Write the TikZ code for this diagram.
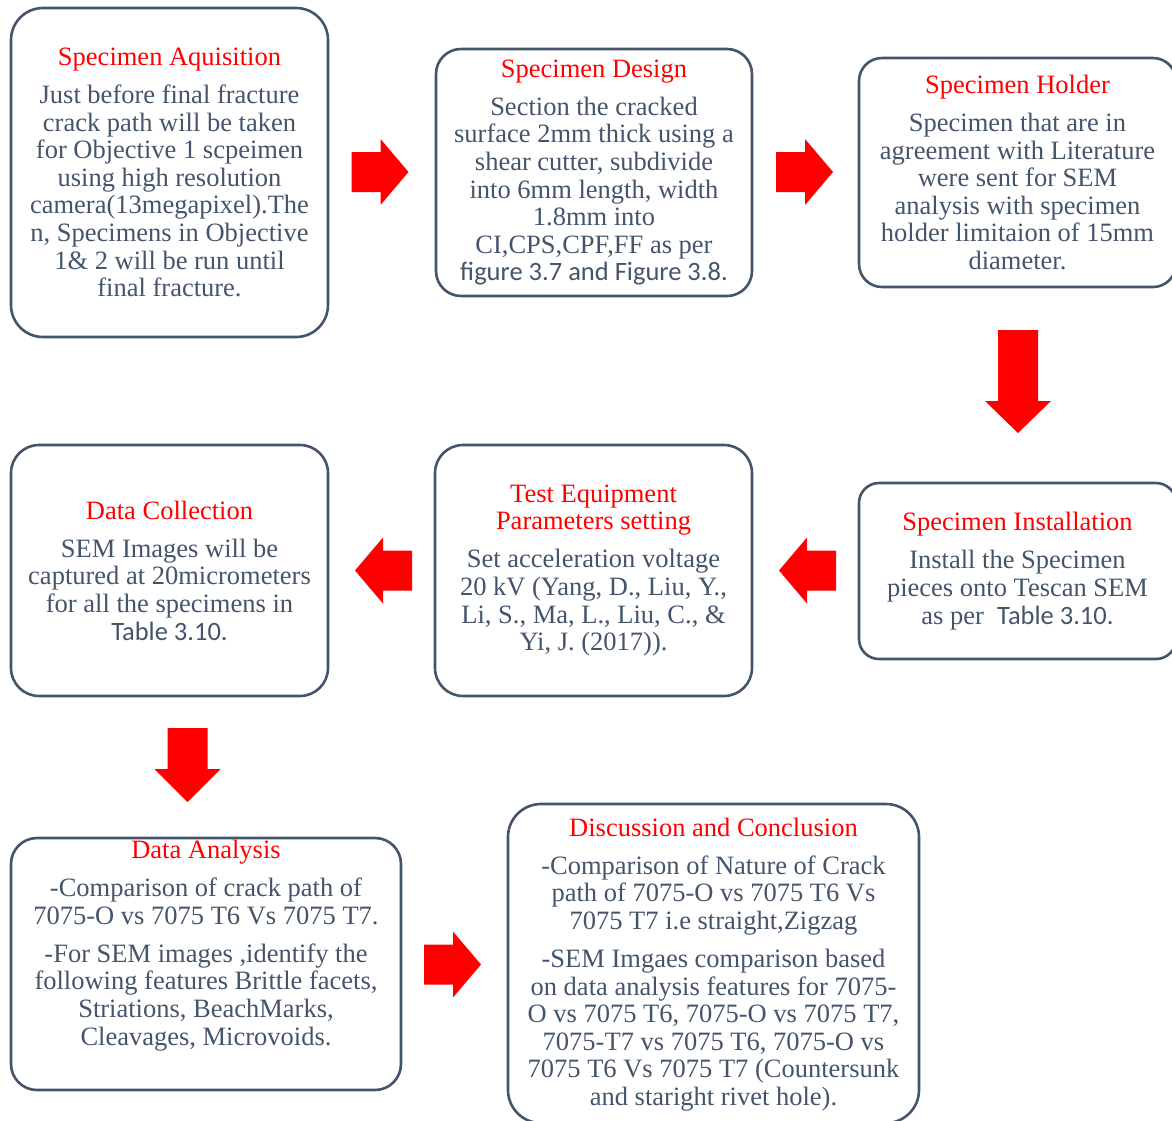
\documentclass[tikz,border=0pt]{standalone}
\usepackage{fontspec}
\setmainfont{Liberation Serif}
\newfontfamily\calibri{Carlito}
\usetikzlibrary{fit}
\definecolor{slate}{HTML}{44546A}
\tikzset{
  stage/.style={draw=slate, line width=2.6pt, inner sep=0pt},
  txt/.style={text=slate, align=center, inner sep=0pt, font=\fontsize{26.5}{27.6}\selectfont},
  blockred/.style={fill=red}
}
\newcommand{\ttl}[1]{\textcolor{red}{#1}\\[10.5pt]}
\begin{document}
\begin{tikzpicture}[x=1pt,y=-1pt]
\useasboundingbox (0,0) rectangle (1172,1120);
\clip (0,0) rectangle (1172,1120);
% boxes
\node[stage, rounded corners=32pt, fit={(11,8) (328,337)}] (acq) {};
\node[stage, rounded corners=25pt, fit={(436,49) (752,296)}] (design) {};
\node[stage, rounded corners=23pt, fit={(859,58) (1176,287)}] (holder) {};
\node[stage, rounded corners=20pt, fit={(859,483) (1176,659)}] (install) {};
\node[stage, rounded corners=28pt, fit={(435,445) (752,696)}] (equip) {};
\node[stage, rounded corners=28pt, fit={(11,445) (328,696)}] (collect) {};
\node[stage, rounded corners=26pt, fit={(11,838) (401,1090)}] (analysis) {};
\node[stage, rounded corners=33pt, fit={(508,804) (919,1123)}] (concl) {};
% texts
\node[txt] (acqtext) at (acq.center) {\ttl{Specimen Aquisition}Just before final fracture\\ crack path will be taken\\ for Objective 1 scpeimen\\ using high resolution\\ camera(13megapixel).The\\ n, Specimens in Objective\\ 1\& 2 will be run until\\ final fracture.};
\node[txt] (designtext) at (design.center) {\ttl{Specimen Design}Section the cracked\\ surface 2mm thick using a\\ shear cutter, subdivide\\ into 6mm length, width\\ 1.8mm into\\ CI,CPS,CPF,FF as per\\ {\calibri figure 3.7 and Figure 3.8.}};
\node[txt] (holdertext) at (holder.center) {\ttl{Specimen Holder}Specimen that are in\\ agreement with Literature\\ were sent for SEM\\ analysis with specimen\\ holder limitaion of 15mm\\ diameter.};
\node[txt] (installtext) at (install.center) {\ttl{Specimen Installation}Install the Specimen\\ pieces onto Tescan SEM\\ as per\ \ {\calibri Table 3.10.}};
\node[txt] (equiptext) at (equip.center) {\textcolor{red}{Test Equipment}\\ \ttl{Parameters setting}Set acceleration voltage\\ 20 kV (Yang, D., Liu, Y.,\\ Li, S., Ma, L., Liu, C., \&\\ Yi, J. (2017)).};
\node[txt] (collecttext) at (collect.center) {\ttl{Data Collection}SEM Images will be\\ captured at 20micrometers\\ for all the specimens in\\ {\calibri Table 3.10.}};
\node[txt] (analysistext) at ([yshift=18.5pt]analysis.center) {\ttl{Data Analysis}-Comparison of crack path of\\ 7075-O vs 7075 T6 Vs 7075 T7.\\[10.5pt] -For SEM images ,identify the\\ following features Brittle facets,\\ Striations, BeachMarks,\\ Cleavages, Microvoids.};
\node[txt] (concltext) at ([yshift=-1pt]concl.center) {\ttl{Discussion and Conclusion}-Comparison of Nature of Crack\\ path of 7075-O vs 7075 T6 Vs\\ 7075 T7 i.e straight,Zigzag\\[10.5pt] -SEM Imgaes comparison based\\ on data analysis features for 7075-\\ O vs 7075 T6, 7075-O vs 7075 T7,\\ 7075-T7 vs 7075 T6, 7075-O vs\\ 7075 T6 Vs 7075 T7 (Countersunk\\ and staright rivet hole).};
% block arrows
\coordinate (r1) at (380,172);
\coordinate (r2) at (804.5,172);
\coordinate (d1) at (1018,381.5);
\coordinate (l1) at (807.5,570.5);
\coordinate (l2) at (383.5,570.5);
\coordinate (d2) at (187.5,765);
\coordinate (r3) at (452.5,964.5);
\foreach \c/\a/\l/\h in {r1/0/57/28, r2/0/57/28, d1/-90/103/32, l1/180/57/28, l2/180/57/28, d2/-90/74/33, r3/0/57/28}
  \fill[blockred, shift={(\c)}, rotate=\a] ({-\l/2},-20) -- ({\l/2-\h},-20) -- ({\l/2-\h},-33) -- ({\l/2},0) -- ({\l/2-\h},33) -- ({\l/2-\h},20) -- ({-\l/2},20) -- cycle;
\end{tikzpicture}
\end{document}
